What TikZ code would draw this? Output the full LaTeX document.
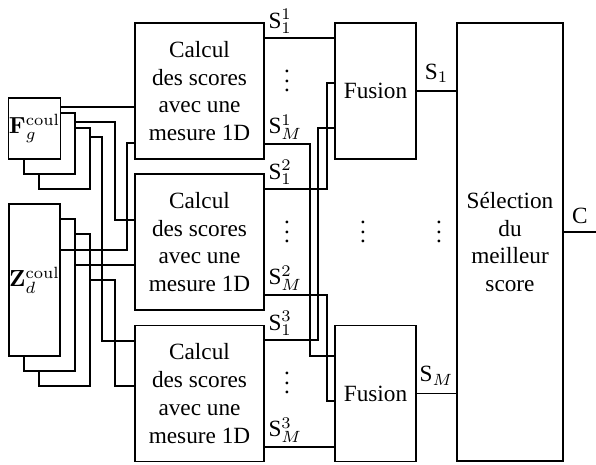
\documentclass[tikz,border=0pt]{standalone}
\usepackage[no-math]{fontspec}
\setmainfont{Liberation Serif}
\newcommand{\pxl}{0.43pt}
\newcommand{\troispts}{\vbox{\baselineskip4pt\lineskiplimit0pt\hbox{.}\hbox{.}\hbox{.}}}
\begin{document}
\begin{tikzpicture}[x=0.43pt,y=-0.43pt,line width=0.45pt,
    bloc/.style={draw,fill=white,inner sep=0pt,align=center},
    etiq/.style={anchor=south west,inner sep=1.5pt},
    pts/.style={inner sep=0pt}]
        \useasboundingbox (0,0) rectangle (596,465);
        % Descripteurs couleur (piles)
        \node[bloc,minimum width=51*\pxl,minimum height=61*\pxl] (f3) at (64.5,158.5) {};
        \node[bloc,minimum width=51*\pxl,minimum height=61*\pxl] (f2) at (49.5,143.5) {};
        \node[bloc,minimum width=51*\pxl,minimum height=61*\pxl] (f1) at (34.5,128.5) {$\mathbf{F}_g^{\mathrm{coul}}$};
        \node[bloc,minimum width=51*\pxl,minimum height=152*\pxl] (z3) at (64.5,310) {};
        \node[bloc,minimum width=51*\pxl,minimum height=152*\pxl] (z2) at (49.5,295) {};
        \node[bloc,minimum width=51*\pxl,minimum height=152*\pxl] (z1) at (34.5,280) {$\mathbf{Z}_d^{\mathrm{coul}}$};
        % Calcul des scores
        \node[bloc,minimum width=129*\pxl,minimum height=136*\pxl] (c1) at (199.5,91) {Calcul\\des scores\\avec une\\mesure 1D};
        \node[bloc,minimum width=129*\pxl,minimum height=136*\pxl] (c2) at (199.5,242) {Calcul\\des scores\\avec une\\mesure 1D};
        \node[bloc,minimum width=129*\pxl,minimum height=136*\pxl] (c3) at (199.5,393.5) {Calcul\\des scores\\avec une\\mesure 1D};
        % Fusion et selection
        \node[bloc,minimum width=81*\pxl,minimum height=136*\pxl] (p1) at (375.5,91) {Fusion};
        \node[bloc,minimum width=81*\pxl,minimum height=136*\pxl] (p2) at (375.5,393.5) {Fusion};
        \node[bloc,minimum width=106*\pxl,minimum height=438*\pxl] (sel) at (510,242) {Sélection\\du\\meilleur\\score};
        \coordinate (cout) at (596,232);
        % Entrees F
        \draw (f1.east |- 0,107) -- (c1.west |- 0,107);
        \draw (f2.east |- 0,122) -| (115,220) -- (c2.west |- 0,220);
        \draw (f3.east |- 0,137) -| (102,341) -- (c3.west |- 0,341);
        % Entrees Z
        \draw (z1.east |- 0,250) -| (127,143) -- (c1.west |- 0,143);
        \draw (z2.east |- 0,265) -- (c2.west |- 0,265);
        \draw (z3.east |- 0,280) -| (115,386) -- (c3.west |- 0,386);
        % Scores vers fusion
        \draw (c1.east |- 0,38) node[etiq] {S$_1^1$} -- (p1.west |- 0,38);
        \draw (c1.east |- 0,144) node[etiq] {S$_M^1$} -| (310,356) -- (p2.west |- 0,356);
        \draw (c2.east |- 0,189) node[etiq] {S$_1^2$} -| (327,83) -- (p1.west |- 0,83);
        \draw (c2.east |- 0,295) node[etiq] {S$_M^2$} -| (327,401) -- (p2.west |- 0,401);
        \draw (c3.east |- 0,340) node[etiq] {S$_1^3$} -| (318,128) -- (p1.west |- 0,128);
        \draw (c3.east |- 0,447) node[etiq] {S$_M^3$} -- (p2.west |- 0,447);
        % Sorties
        \draw (p1.east) -- node[above] {S$_1$} (sel.west |- p1.east);
        \draw (p2.east) -- node[above] {S$_M$} (sel.west |- p2.east);
        \draw (sel.east |- cout) -- node[above] {C} (cout);
        % Points de suspension
        \node[pts] (d1) at (287,81) {\troispts};
        \node[pts] (d2) at (287,232) {\troispts};
        \node[pts] (d3) at (287,383) {\troispts};
        \node[pts] (d4) at (363,232) {\troispts};
        \node[pts] (d5) at (439,232) {\troispts};
\end{tikzpicture}
\end{document}
